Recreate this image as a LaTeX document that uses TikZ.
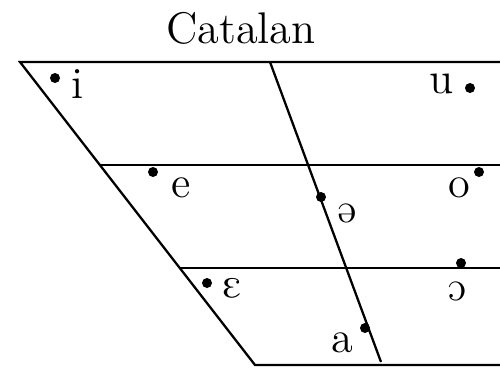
\documentclass[tikz,border=0pt]{standalone}
\usepackage{tipa}
\usetikzlibrary{positioning}
\begin{document}
\begin{tikzpicture}[x=0.01cm,y=-0.01cm,
  chartline/.style={line width=0.65pt,line join=miter},
  vdot/.style={circle,fill,inner sep=0pt,minimum size=0.1cm},
  vlabel/.style={anchor=base,inner sep=0pt,font=\fontsize{12.6}{15}\selectfont}]
  \useasboundingbox (0,0) rectangle (500,369);
  % Outline of the chart
  \coordinate (topleft) at (20,62);
  \coordinate (topright) at (500,62);
  \coordinate (botleft) at (255,365);
  \coordinate (botright) at (500,365);
  \coordinate (midleft) at (100,165);
  \coordinate (midright) at (500,165);
  \coordinate (lowleft) at (180,268);
  \coordinate (lowright) at (500,268);
  \coordinate (centtop) at (270,62);
  \coordinate (centbot) at (381,362);
  \draw[chartline] (topright) -- (topleft) -- (botleft) -- (botright);
  \draw[chartline] (midleft) -- (midright);
  \draw[chartline] (lowleft) -- (lowright);
  \draw[chartline] (centtop) -- (centbot);
  % Title
  \node[vlabel] (title) at (241,43) {Catalan};
  % Vowels
  \node[vdot] (idot) at (55,78) {};
  \node[vlabel] (ilab) at (78,98) {i};
  \node[vdot] (udot) at (470,88) {};
  \node[vlabel] (ulab) at (442,93) {u};
  \node[vdot] (edot) at (153,172) {};
  \node[vlabel] (elab) at (181,197) {e};
  \node[vdot] (odot) at (479,172) {};
  \node[vlabel] (olab) at (459,197) {o};
  \node[vdot] (schwadot) at (321,197) {};
  \node[vlabel] (schwalab) at (347,222) {\textschwa};
  \node[vdot] (epsdot) at (207,283) {};
  \node[vlabel] (epslab) at (232,297) {\textepsilon};
  \node[vdot] (openodot) at (461,263) {};
  \node[vlabel] (openolab) at (457,300) {\textopeno};
  \node[vdot] (adot) at (365,328) {};
  \node[vlabel] (alab) at (342,352) {a};
\end{tikzpicture}
\end{document}
